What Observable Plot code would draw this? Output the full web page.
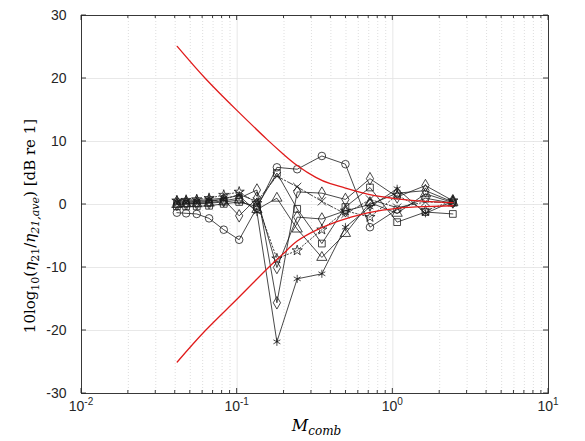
<!DOCTYPE html>
<html><head><meta charset="utf-8">
<script src="https://cdn.jsdelivr.net/npm/d3@7"></script>
<script src="https://cdn.jsdelivr.net/npm/@observablehq/plot@0.6"></script>
<style>body{margin:0;background:#fff} svg{display:block}</style>
</head><body><div id="chart"></div>
<script>
// M_comb sample points
const mComb = [0.041, 0.047, 0.055, 0.066, 0.082, 0.103, 0.134, 0.180, 0.243, 0.350, 0.496, 0.713, 1.066, 1.62, 2.43];
// series values (dB)
const sCircle   = [-1.3, -1.4, -1.5, -2.2, -4.0, -5.6, -0.5, 5.9, 5.6, 7.7, 6.4, -3.6, -0.8, 1.0, 0.2];
const sSquare   = [-0.3, -0.3, -0.3, -0.2, 0.1, 0.4, -0.3, 5.0, -0.7, -6.2, -0.4, 2.7, -2.8, -1.2, -1.5];
const sDiamondA = [0.0, 0.1, 0.2, 0.3, 0.6, 1.0, 2.3, -15.6, 2.0, 1.8, 0.8, 4.1, 1.2, 3.0, 0.6];
const sDiamondB = [0.4, 0.4, 0.5, 0.6, 0.8, -1.8, 1.0, -10.0, -2.0, -2.3, -1.0, 0.0, 1.8, 2.2, 0.4];
const sTriangle = [0.0, 0.1, 0.1, 0.2, 0.4, 0.7, -0.8, 1.0, -3.9, -8.4, -4.6, 0.3, -1.4, 1.7, 0.3];
const sAsterisk = [0.5, 0.6, 0.6, 0.8, 1.0, 1.4, -1.2, -21.8, -11.8, -11.0, -3.6, -0.4, 2.5, -1.4, 0.5];
const sStar     = [0.6, 0.7, 0.8, 1.0, 1.5, 2.0, 0.2, -8.6, -7.3, -4.0, -1.0, -2.0, 1.5, -1.0, 0.6];
const sTimes    = [0.2, 0.3, 0.3, 0.5, 0.8, 1.6, 0.5, 4.5, 2.8, 0.5, -1.5, 0.8, -0.5, 0.4, 0.3];
// red bounding curves
const redX     = [0.0412, 0.0625, 0.100, 0.156, 0.200, 0.243, 0.320, 0.397, 0.496, 0.70, 1.066, 1.6, 2.43];
const redUpper = [25.1, 20.0, 14.9, 10.3, 7.9, 6.2, 4.3, 3.3, 2.6, 1.6, 0.9, 0.5, 0.3];
const redLower = [-25.0, -20.0, -15.0, -10.2, -7.7, -5.8, -4.1, -3.1, -2.3, -1.3, -0.6, -0.35, -0.2];
// ticks
const yTicks = [-30, -20, -10, 0, 10, 20, 30];
const xDecades = [0.01, 0.1, 1, 10];
const xDecadeExp = ["-2", "-1", "0", "1"];
const xMinor = [0.02,0.03,0.04,0.05,0.06,0.07,0.08,0.09,0.2,0.3,0.4,0.5,0.6,0.7,0.8,0.9,2,3,4,5,6,7,8,9];

const series = [
  {values: sCircle, symbol: "circle", dash: null},
  {values: sSquare, symbol: "square", dash: null},
  {values: sDiamondA, symbol: "diamond", dash: null},
  {values: sDiamondB, symbol: "diamond", dash: null},
  {values: sTriangle, symbol: "triangle", dash: null},
  {values: sAsterisk, symbol: "asterisk", dash: null},
  {values: sStar, symbol: "star", dash: "1.5,2"},
  {values: sTimes, symbol: "times", dash: "6,2,1.5,2"}
];

const seriesMarks = [];
for (const s of series) {
  const rows = mComb.map((m, i) => ({x: m, y: s.values[i]}));
  seriesMarks.push(Plot.line(rows, {x: "x", y: "y", stroke: "#1a1a1a", strokeWidth: 0.8, strokeDasharray: s.dash}));
  seriesMarks.push(Plot.dot(rows, {x: "x", y: "y", symbol: s.symbol, r: s.symbol === "star" ? 3.2 : 3.8, stroke: "#1a1a1a", strokeWidth: 0.8, fill: "none"}));
}
const upperRows = redX.map((m, i) => ({x: m, y: redUpper[i]}));
const lowerRows = redX.map((m, i) => ({x: m, y: redLower[i]}));

const chart = Plot.plot({
  width: 585, height: 441,
  marginLeft: 81, marginRight: 37, marginTop: 15, marginBottom: 48,
  style: {fontFamily: "'Liberation Sans', Arial, sans-serif", background: "#fff"},
  x: {type: "log", domain: [0.01, 10], axis: null},
  y: {domain: [-30, 30], axis: null},
  marks: [
    Plot.ruleX(xMinor, {stroke: "#d6d6d6", strokeWidth: 0.8, strokeDasharray: "1,2"}),
    Plot.ruleX(xDecades, {stroke: "#e2e2e2", strokeWidth: 0.8}),
    Plot.ruleY(yTicks, {stroke: "#e2e2e2", strokeWidth: 0.8}),
    ...seriesMarks,
    Plot.line(upperRows, {x: "x", y: "y", stroke: "#e01b1b", strokeWidth: 1.3, curve: "natural"}),
    Plot.line(lowerRows, {x: "x", y: "y", stroke: "#e01b1b", strokeWidth: 1.3, curve: "natural"}),
    Plot.frame({stroke: "#262626", strokeWidth: 0.9}),
    Plot.axisY({ticks: yTicks, tickSize: 0, tickPadding: 15, tickFormat: d => String(d), fontSize: 14, fill: "#262626", label: null})
  ]
});
document.getElementById("chart").appendChild(chart);

const sx = chart.scale("x"), sy = chart.scale("y");
const X = v => sx.apply(v), Y = v => sy.apply(v);
const svg = d3.select(chart);
const x0 = X(0.01), x1 = X(10), yb = Y(-30), yt = Y(30);
const g = svg.append("g").attr("stroke", "#262626").attr("stroke-width", 0.9);
for (const d of xDecades) {
  g.append("line").attr("x1", X(d)).attr("x2", X(d)).attr("y1", yb).attr("y2", yb - 5);
  g.append("line").attr("x1", X(d)).attr("x2", X(d)).attr("y1", yt).attr("y2", yt + 5);
}
for (const d of xMinor) {
  g.append("line").attr("x1", X(d)).attr("x2", X(d)).attr("y1", yb).attr("y2", yb - 3);
  g.append("line").attr("x1", X(d)).attr("x2", X(d)).attr("y1", yt).attr("y2", yt + 3);
}
for (const v of yTicks) {
  g.append("line").attr("x1", x0).attr("x2", x0 + 5).attr("y1", Y(v)).attr("y2", Y(v));
  g.append("line").attr("x1", x1).attr("x2", x1 - 5).attr("y1", Y(v)).attr("y2", Y(v));
}
// x tick labels 10^k
xDecades.forEach((d, i) => {
  const t = svg.append("text").attr("x", X(d)).attr("y", yb + 18)
    .attr("text-anchor", "middle").attr("fill", "#262626")
    .style("font-family", "'Liberation Sans', Arial, sans-serif").style("font-size", "14px");
  t.append("tspan").text("10");
  t.append("tspan").attr("dy", -6).style("font-size", "10px").text(xDecadeExp[i]);
});
// x axis label
const xl = svg.append("text").attr("x", (x0 + x1) / 2 + 2).attr("y", 431)
  .attr("text-anchor", "middle").attr("fill", "#000")
  .style("font-family", "'DejaVu Serif', 'Liberation Serif', serif").style("font-size", "16px");
xl.append("tspan").style("font-style", "italic").text("M");
xl.append("tspan").attr("dy", 4).style("font-style", "italic").style("font-size", "12px").text("comb");
// y axis label
const yl = svg.append("text").attr("transform", "translate(35,226) rotate(-90)")
  .attr("text-anchor", "middle").attr("fill", "#000")
  .style("font-family", "'DejaVu Serif', 'Liberation Serif', serif").style("font-size", "15px");
yl.append("tspan").text("10log");
yl.append("tspan").attr("dy", 4).style("font-size", "11px").text("10");
yl.append("tspan").attr("dy", -4).text("(");
yl.append("tspan").style("font-style", "italic").text("η");
yl.append("tspan").attr("dy", 4).style("font-size", "11px").text("21");
yl.append("tspan").attr("dy", -4).text("/");
yl.append("tspan").style("font-style", "italic").text("η");
yl.append("tspan").attr("dy", 4).style("font-size", "11px").style("font-style", "italic").text("21,ave");
yl.append("tspan").attr("dy", -4).text(") [dB re 1]");
</script>
</body></html>
